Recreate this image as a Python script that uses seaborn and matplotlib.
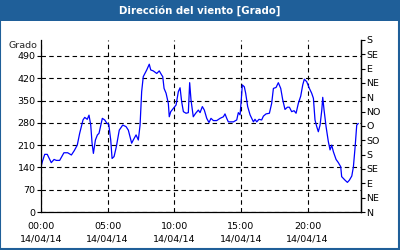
import matplotlib
matplotlib.use("Agg")
import matplotlib.pyplot as plt
import seaborn as sns
import pandas as pd
from matplotlib.patches import Rectangle
from matplotlib.ticker import MultipleLocator

hours = [0.0, 0.1, 0.28, 0.47, 0.77, 0.98, 1.15, 1.4, 1.72, 2.0, 2.28, 2.5, 2.72, 2.9,
         3.15, 3.28, 3.47, 3.6, 3.73, 3.83, 3.93, 4.08, 4.23, 4.35, 4.6, 4.78, 4.95, 5.08,
         5.23, 5.33, 5.48, 5.65, 5.78, 5.87, 6.13, 6.38, 6.55, 6.68, 6.8, 6.92, 7.13, 7.3,
         7.43, 7.55, 7.67, 7.93, 8.12, 8.23, 8.42, 8.68, 8.87, 9.05, 9.13, 9.23, 9.38, 9.55,
         9.62, 9.73, 9.92, 10.13, 10.3, 10.43, 10.55, 10.68, 10.88, 11.05, 11.15, 11.25,
         11.42, 11.6, 11.8, 11.93, 12.1, 12.25, 12.43, 12.6, 12.75, 12.93, 13.18, 13.43,
         13.68, 13.8, 13.93, 14.05, 14.43, 14.68, 14.8, 14.93, 15.0, 15.1, 15.25, 15.35,
         15.5, 15.68, 15.93, 16.05, 16.18, 16.35, 16.55, 16.68, 16.88, 17.13, 17.3, 17.43,
         17.63, 17.8, 17.98, 18.13, 18.3, 18.48, 18.63, 18.8, 18.98, 19.13, 19.3, 19.48,
         19.63, 19.75, 19.93, 20.13, 20.3, 20.43, 20.55, 20.68, 20.8, 20.93, 21.06, 21.13,
         21.23, 21.38, 21.55, 21.68, 21.8, 21.93, 22.13, 22.3, 22.48, 22.55, 22.8, 22.98,
         23.13, 23.31, 23.43, 23.56, 23.68, 23.8]
direction = [142, 158, 181, 181, 155, 165, 162, 162, 186, 186, 179, 193, 210, 247,
             289, 297, 291, 304, 273, 216, 184, 226, 242, 247, 294, 289, 278, 276,
             226, 168, 174, 205, 236, 257, 273, 268, 257, 236, 216, 226, 242, 226,
             273, 378, 425, 446, 464, 446, 443, 435, 443, 430, 425, 388, 373, 341,
             299, 315, 325, 336, 378, 390, 346, 315, 310, 312, 406, 352,
             299, 310, 320, 312, 331, 320, 294, 281, 294, 287, 287, 294,
             299, 308, 294, 283, 283, 289, 312, 305, 341, 399, 393, 373,
             331, 305, 283, 291, 283, 291, 289, 301, 308, 310, 341, 388,
             391, 406, 388, 352, 322, 329, 329, 315, 318, 310, 341, 364,
             399, 417, 409, 388, 373, 357, 289, 268, 252, 273, 320, 360,
             320, 268, 221, 195, 210, 189, 165, 155, 142, 111, 100, 93,
             100, 113, 142, 205, 273, 278]

x_ticks = [0, 5, 10, 15, 20]
x_labels = ["00:00\n14/04/14", "05:00\n14/04/14", "10:00\n14/04/14",
            "15:00\n14/04/14", "20:00\n14/04/14"]
y_ticks = [0, 70, 140, 210, 280, 350, 420, 490]
compass_ticks = list(range(0, 541, 45))
compass_labels = ["N", "NE", "E", "SE", "S", "SO", "O", "NO", "N", "NE", "E", "SE", "S"]

df = pd.DataFrame({"hora": hours, "grado": direction})

sns.set_style("white")
plt.rcParams["font.family"] = ["DejaVu Sans"]
FS = 6.8

fig = plt.figure(figsize=(4, 2.5), dpi=100)
fig.patch.set_facecolor("white")

# title bar and frame
fig.add_artist(Rectangle((0, 0.918), 1, 0.082, transform=fig.transFigure,
                         facecolor="#1f5f99", edgecolor="none", zorder=0))
fig.add_artist(Rectangle((0.001, 0.003), 0.997, 0.994, transform=fig.transFigure,
                         facecolor="none", edgecolor="#1f5f99", linewidth=1.5, zorder=0))
fig.text(0.5, 0.958, "Dirección del viento [Grado]", color="white", fontsize=7.3,
         fontweight="bold", ha="center", va="center")

ax = fig.add_axes([0.1025, 0.152, 0.8, 0.688])
sns.lineplot(data=df, x="hora", y="grado", ax=ax, color="#0000ff", linewidth=0.9)

ax.set_xlim(0, 24)
ax.set_ylim(0, 540)
ax.set_xticks(x_ticks)
ax.set_xticklabels(x_labels, fontsize=FS, linespacing=1.5)
ax.xaxis.set_minor_locator(MultipleLocator(1))
ax.set_yticks(y_ticks)
ax.set_yticklabels([str(v) for v in y_ticks], fontsize=FS)
ax.set_xlabel("")
ax.set_ylabel("")
ax.tick_params(axis="x", which="major", direction="out", length=4, width=0.8, pad=3, colors="black")
ax.tick_params(axis="x", which="minor", direction="out", length=3, width=0.8, colors="black")
ax.tick_params(axis="y", which="major", direction="out", length=3, width=0.8, pad=1, colors="black")
ax.grid(True, which="major", color="black", linestyle=(0, (4, 3)), linewidth=0.8)
for s in ["left", "bottom", "right"]:
    ax.spines[s].set_visible(True)
    ax.spines[s].set_color("black")
    ax.spines[s].set_linewidth(0.9)
ax.spines["top"].set_visible(False)

ax2 = ax.twinx()
ax2.set_ylim(0, 540)
ax2.set_yticks(compass_ticks)
ax2.set_yticklabels(compass_labels, fontsize=FS)
ax2.tick_params(axis="y", direction="out", length=3, width=0.8, pad=1, colors="black")
ax2.grid(False)
for s in ["top", "left", "bottom"]:
    ax2.spines[s].set_visible(False)
ax2.spines["right"].set_color("black")
ax2.spines["right"].set_linewidth(0.9)

fig.text(0.022, 0.82, "Grado", fontsize=FS, ha="left", va="center")

fig.savefig("out.png", dpi=100)
